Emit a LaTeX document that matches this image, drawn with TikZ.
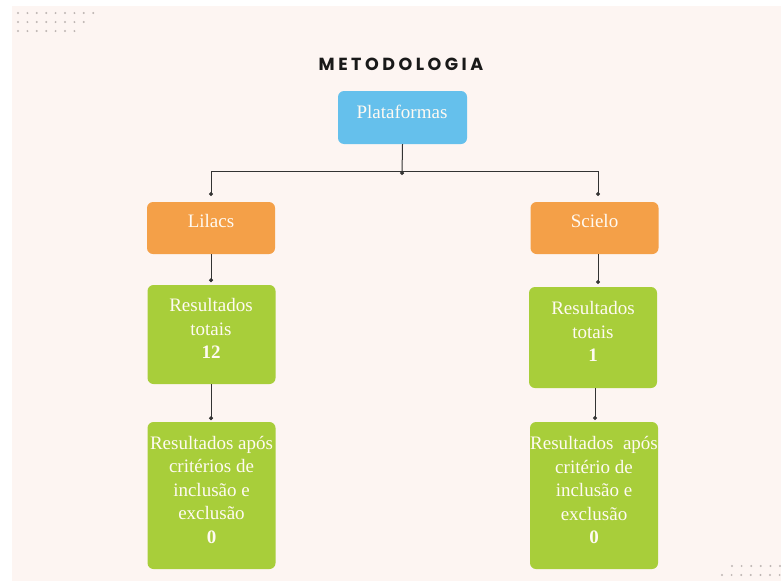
\documentclass[tikz,border=0pt]{standalone}
\usepackage{fontspec}
\setmainfont{Liberation Serif}
\newfontfamily\titlefont[LetterSpace=20]{Poppins}
\usetikzlibrary{arrows.meta}
\definecolor{bgpink}{HTML}{FDF5F2}
\definecolor{boxblue}{HTML}{65C0EC}
\definecolor{boxorange}{HTML}{F4A048}
\definecolor{boxgreen}{HTML}{A8CE3A}
\definecolor{dotgray}{HTML}{BDB5B3}
\definecolor{linegray}{HTML}{333333}
\definecolor{txtwhite}{HTML}{FFFAF2}
\tikzset{
  box/.style={draw=none, rounded corners=6pt, minimum width=128pt, inner sep=0pt},
  txt/.style={text=txtwhite, font=\fontsize{19}{23.5}\selectfont, align=center, inner sep=0pt},
  conn/.style={draw=linegray, line width=1pt},
  dotend/.style={conn, -{Circle[length=4pt]}},
  deco/.style={fill=dotgray}
}
\begin{document}
\begin{tikzpicture}[x=1pt,y=-1pt]
\useasboundingbox (0,0) rectangle (781,581);
\fill[bgpink] (12,6) rectangle (781,581);
% decorative dots
\foreach \i in {0,...,8} \fill[deco] (18+\i*9.4,13) circle (1.1pt);
\foreach \i in {0,...,7} \fill[deco] (18+\i*9.4,22) circle (1.1pt);
\foreach \i in {0,...,6} \fill[deco] (18+\i*9.4,31) circle (1.1pt);
\foreach \i in {0,...,5} \fill[deco] (732+\i*9.6,566) circle (1.1pt);
\foreach \i in {0,...,6} \fill[deco] (722+\i*9.6,575) circle (1.1pt);
% title
\node[font=\titlefont\bfseries\fontsize{17.5}{20}\selectfont, text=black!90, inner sep=0pt] (title) at (401,64.5) {METODOLOGIA};
% boxes
\node[box, fill=boxblue, minimum width=129pt, minimum height=53pt] (plat) at (402.5,117.5) {};
\node[box, fill=boxorange, minimum height=52pt] (lil) at (211,228) {};
\node[box, fill=boxorange, minimum height=52pt] (sci) at (594.5,228) {};
\node[box, fill=boxgreen, minimum height=99pt] (lr1) at (211.5,334.5) {};
\node[box, fill=boxgreen, minimum height=147pt] (lr2) at (211.5,495.5) {};
\node[box, fill=boxgreen, minimum height=101pt] (sr1) at (593,337.5) {};
\node[box, fill=boxgreen, minimum height=147pt] (sr2) at (594,495.5) {};
% texts
\node[txt] (platt) at (402,112) {Plataformas};
\node[txt] (lilt) at (211,221) {Lilacs};
\node[txt] (scit) at (594.5,221) {Scielo};
\node[txt] (lr1t) at (211,328.5) {Resultados\\totais\\\textbf{12}};
\node[txt] (lr2t) at (211.5,489.5) {Resultados após\\critérios de\\inclusão e\\exclusão\\\textbf{0}};
\node[txt] (sr1t) at (593,331.5) {Resultados\\totais\\\textbf{1}};
\node[txt] (sr2t) at (594,490) {Resultados\ \ após\\critério de\\inclusão e\\exclusão\\\textbf{0}};
% connectors
\coordinate (hub) at (402,175);
\coordinate (hl) at (211,171);
\coordinate (hr) at (598,171);
\coordinate (ltop) at (211,196);
\coordinate (rtop) at (598,196);
\draw[dotend] (plat.south) -- (hub);
\draw[conn] (hl) -- (hr);
\draw[dotend] (hl) -- (ltop);
\draw[dotend] (hr) -- (rtop);
\draw[dotend] (lil.south) -- ++(0,28);
\draw[dotend] (lr1.south -| lil.south) -- ++(0,36);
\coordinate (sciout) at (598,254);
\draw[dotend] (sciout) -- ++(0,30);
\coordinate (sr1out) at (595,388);
\draw[dotend] (sr1out) -- ++(0,32);
\end{tikzpicture}
\end{document}
